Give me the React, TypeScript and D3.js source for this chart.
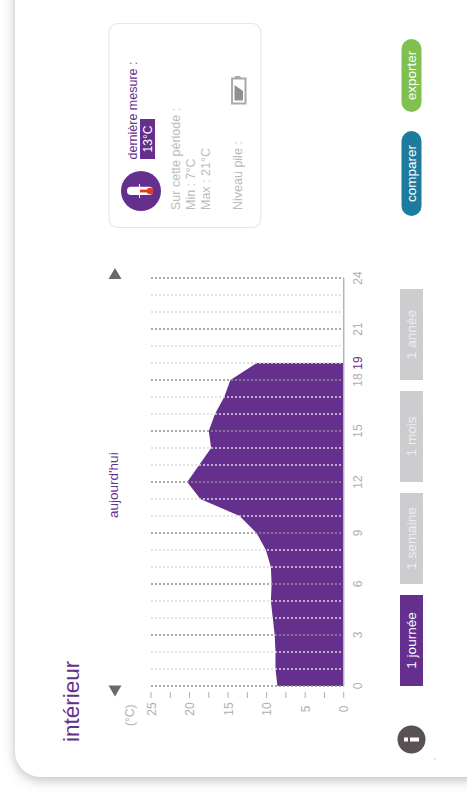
import React from "react";
import * as d3 from "d3";

const hours = [0,1,2,3,4,5,6,7,8,9,10,11,12,13,14,15,16,17,18,19];
const temps = [8.6,8.85,8.85,8.95,9.2,9.45,9.35,9.45,10.1,11.3,13.5,18.6,20.3,18.75,17.2,17.5,16.7,15.5,14.7,11.3];
const allHours = d3.range(0, 25);
const hourLabels = [0,3,6,9,12,15,18,21,24];
const markerHour = 19;
const tempTicks = d3.range(0, 25.1, 2.5);
const tempLabels = [0,5,10,15,20,25];
const periods = ["1 journée","1 semaine","1 mois","1 année"];
const panelLeft = ["Sur cette période :","Min : 7°C","Max : 21°C"];

const PURPLE = "#652f8e";
const GREY = "#b0b0b0";
const FONT = "'Liberation Sans', Arial, sans-serif";

const yH = d3.scaleLinear().domain([0, 24]).range([686, 278]);
const xT = d3.scaleLinear().domain([0, 25]).range([343.7, 151]);

const area = d3.area<number>()
  .y((d) => yH(d))
  .x0(xT(0))
  .x1((_, i) => xT(temps[i]));

const RText = ({ x, y, size, fill, anchor = "start", children, weight, opacity }: any) => (
  <text transform={`translate(${x},${y}) rotate(-90)`} fontSize={size} fill={fill} fillOpacity={opacity} textAnchor={anchor} fontFamily={FONT} fontWeight={weight}>{children}</text>
);

export default function App() {
  return (
    <svg width={467} height={792} style={{ position: "absolute", left: 0, top: 0, background: "#fff" }}>
      <defs>
        <filter id="sh" x="-10%" y="-10%" width="120%" height="120%">
          <feDropShadow dx="0" dy="3" stdDeviation="6" floodColor="#6b7078" floodOpacity="0.45" />
        </filter>
      </defs>
      <rect x={15} y={-60} width={540} height={837} rx={26} fill="#fff" filter="url(#sh)" />

      <RText x={78.5} y={742} size={22.5} fill={PURPLE}>intérieur</RText>

      {/* chart */}
      <path d={area(hours) ?? ""} fill={PURPLE} />
      {allHours.map((h) => (
        <line key={h} x1={xT(25)} x2={xT(0)} y1={yH(h)} y2={yH(h)}
          stroke={h % 3 === 0 ? "#8f8f8f" : "#dadada"} strokeWidth={1.7} strokeDasharray="2 2" />
      ))}
      <line x1={xT(0)} x2={xT(0)} y1={yH(24)} y2={yH(0)} stroke="#b5b5b5" strokeWidth={1.5} />
      {hourLabels.map((h) => (
        <RText key={h} x={361.5} y={yH(h)} size={12} fill={GREY} anchor="middle">{h}</RText>
      ))}
      <RText x={361.5} y={yH(markerHour)} size={12} fill={PURPLE} anchor="middle">{markerHour}</RText>
      {tempTicks.map((t) => (
        <line key={t} x1={xT(t)} x2={xT(t)} y1={692} y2={698} stroke="#b0b0b0" strokeWidth={1} />
      ))}
      {tempLabels.map((t) => (
        <RText key={t} x={xT(t) + 4.5} y={709} size={12} fill={GREY} anchor="middle">{t}</RText>
      ))}
      <RText x={134} y={726} size={12} fill={GREY}>(°C)</RText>
      <RText x={117.5} y={518} size={13.5} fill={PURPLE}>aujourd'hui</RText>
      <path d="M108.5 279 L115 268 L121.5 279 Z" fill="#6e6767" />
      <path d="M108.5 685.5 L115 696.5 L121.5 685.5 Z" fill="#6e6767" />

      {/* period buttons */}
      {periods.map((p, i) => (
        <g key={p}>
          <rect x={400} y={595 - i * 102} width={23} height={91} fill={i === 0 ? PURPLE : "#cdcdcf"} />
          <RText x={415.5} y={640.5 - i * 102} size={13.5} fill={i === 0 ? "#fff" : "#eeeeee"} anchor="middle">{p}</RText>
        </g>
      ))}

      {/* action buttons */}
      <rect x={401.5} y={39} width={20} height={73} rx={10} fill="#7fc04f" />
      <RText x={416} y={75.5} size={13.5} fill="#fff" anchor="middle">exporter</RText>
      <rect x={401.5} y={131} width={20} height={85} rx={10} fill="#1d7c9e" />
      <RText x={416} y={173.5} size={13.5} fill="#fff" anchor="middle">comparer</RText>

      {/* info */}
      <circle cx={411.5} cy={739.5} r={14} fill="#5a5252" />
      <rect x={404} y={737.5} width={4} height={4} fill="#fff" />
      <rect x={410} y={737.5} width={9} height={4} fill="#fff" />
      <rect x={434} y={758} width={1.5} height={1.5} fill="#cccccc" />

      {/* panel */}
      <rect x={109} y={23.5} width={152} height={204} rx={9} fill="#fff" stroke="#e6e6e6" strokeWidth={1.2} />
      <circle cx={141} cy={191} r={20} fill={PURPLE} />
      <rect x={127} y={186.8} width={26} height={8.2} rx={4.1} fill="#fff" />
      <rect x={140} y={189.6} width={10} height={2.8} fill="#e8381f" />
      <circle cx={150} cy={191} r={3.2} fill="#e8381f" />
      <rect x={139} y={184} width={1} height={14} fill="#fff" />
      <RText x={136.5} y={159.5} size={12.5} fill={PURPLE}>dernière mesure :</RText>
      <rect x={140} y={119} width={15} height={40} fill={PURPLE} />
      <RText x={152} y={139} size={12} fill="#fff" anchor="middle">13°C</RText>
      {panelLeft.map((t, i) => (
        <RText key={t} x={179.5 + i * 15.2} y={210} size={12.5} fill="#bcbcbc">{t}</RText>
      ))}
      <RText x={242} y={210} size={12.5} fill="#bcbcbc">Niveau pile :</RText>
      <rect x={232} y={78.5} width={13.5} height={25} fill="none" stroke="#a9a9a9" strokeWidth={2} />
      <rect x={235} y={76} width={5.5} height={2.5} fill="#a9a9a9" />
      <path d="M234.5 85 L243 91 L243 100.5 L234.5 100.5 Z" fill="#8f8f8f" />
    </svg>
  );
}
